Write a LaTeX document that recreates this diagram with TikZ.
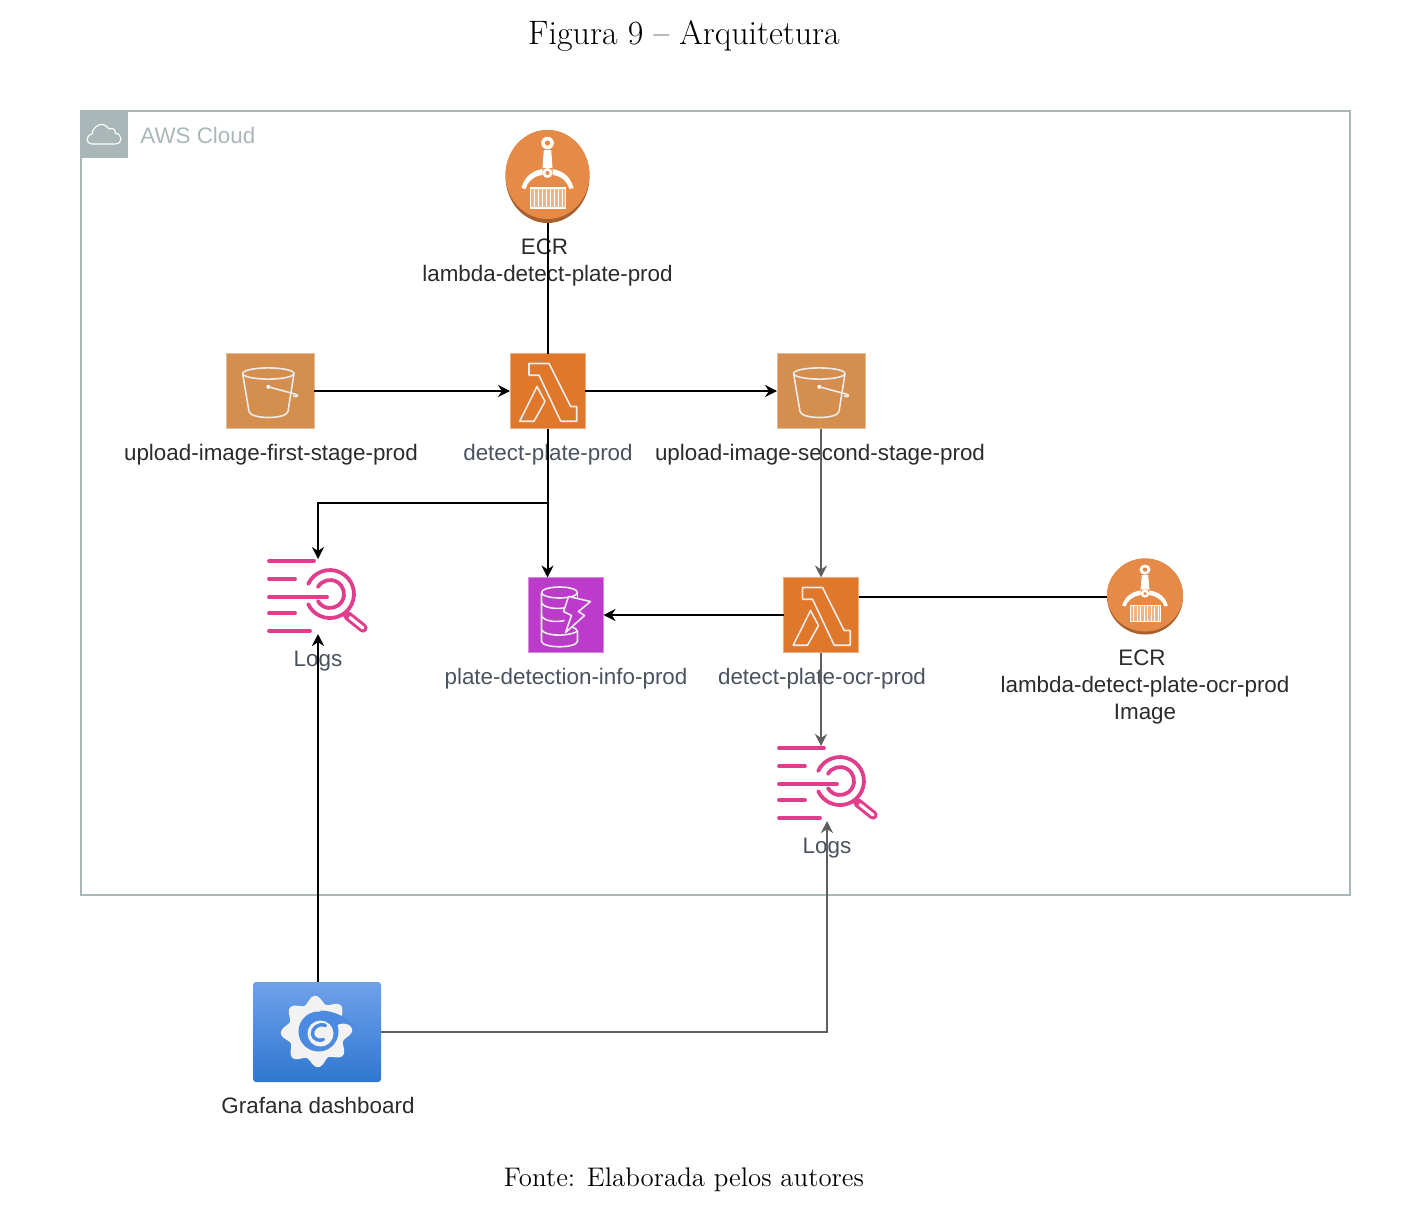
\documentclass[tikz,border=0pt]{standalone}
\usepackage{fontspec}
\setmainfont{Latin Modern Roman}
\newfontfamily\lblfont{Liberation Sans}
\usetikzlibrary{arrows.meta,shapes.geometric,calc}
\definecolor{awsgray}{HTML}{AAB7B8}
\definecolor{s3col}{HTML}{D48F4F}
\definecolor{lamcol}{HTML}{E0782B}
\definecolor{dyncol}{HTML}{BC3BCB}
\definecolor{logcol}{HTML}{E13D8D}
\definecolor{ecrcol}{HTML}{E68B47}
\definecolor{ecrdark}{HTML}{A8602E}
\definecolor{graftop}{HTML}{6FA1EA}
\definecolor{grafbot}{HTML}{2F77CF}
\definecolor{grafmid}{HTML}{4A8BDF}
\definecolor{gearwhite}{HTML}{F2F2F2}
\definecolor{lbldark}{HTML}{2B2B2B}
\definecolor{lblslate}{HTML}{4A5260}
\definecolor{linegray}{HTML}{5F5F5F}
\tikzset{
  iconbox/.style={rectangle,inner sep=0pt,outer sep=0pt,minimum height=37.5pt},
  s3box/.style={iconbox,fill=s3col,draw=s3col!60,line width=.4pt,minimum width=44pt},
  lambox/.style={iconbox,fill=lamcol,draw=lamcol!60,line width=.4pt,minimum width=37.5pt},
  dynbox/.style={iconbox,fill=dyncol,draw=dyncol!60,line width=.4pt,minimum width=37.5pt},
  logbox/.style={iconbox,minimum width=50pt},
  ecrshape/.style={ellipse,inner sep=0pt,outer sep=0pt,fill=ecrcol},
  grafbox/.style={rectangle,rounded corners=1.5pt,inner sep=0pt,outer sep=0pt,minimum width=64pt,minimum height=50pt,top color=graftop,bottom color=grafbot},
  lbl/.style={font=\lblfont\fontsize{11.2}{13.5}\selectfont,text=lbldark,align=center,inner sep=0pt},
  slatelbl/.style={lbl,text=lblslate},
  caplbl/.style={font=\fontsize{15}{18}\selectfont,text=black,inner sep=0pt,scale=1.13},
  srclbl/.style={font=\fontsize{12.8}{15}\selectfont,text=black,inner sep=0pt,scale=1.05},
  conn/.style={line width=1pt,black,-{Stealth[length=6pt,width=6pt]}},
  plain/.style={line width=1pt,black},
  gconn/.style={line width=1.4pt,linegray,-{Stealth[length=6pt,width=6pt]}},
  wline/.style={white!92!black,line width=.8pt,line join=round},
}
% bucket, origin at box top-left, box 88x75
\newcommand\bucketicon[1]{%
 \begin{scope}[shift={(#1)},wline]
  \draw (42.3,20) ellipse [x radius=25.7,y radius=5.6];
  \draw (16.6,20) -- (23,58) .. controls (25,66) and (60,66) .. (62,58) -- (68,20);
  \fill[white] (42.3,33.3) circle (2);
  \draw (42.3,33.3) -- (69,40.5) .. controls (74,42) and (71,44) .. (67,42.5);
 \end{scope}}
% lambda, origin at box top-left, box 75x75
\newcommand\lambdaicon[1]{%
 \begin{scope}[shift={(#1)},wline]
  \draw (19,10) -- (39,10) -- (60.7,53) -- (66.7,53) -- (66.7,67.7) -- (50.7,67.7) -- (29,21.7) -- (19,21.7) -- cycle;
  \draw (27,33) -- (35,48) -- (24,67.7) -- (9.7,67.7) -- cycle;
 \end{scope}}
% dynamodb, origin at box top-left, box 75x75
\newcommand\dynamoicon[1]{%
 \begin{scope}[shift={(#1)},wline]
  \draw (31,15) ellipse [x radius=18,y radius=5.5];
  \draw (13,15) -- (13,64) .. controls (15,71) and (47,71) .. (49,64) -- (49,54);
  \draw (49,15) -- (49,22);
  \draw (13,25) .. controls (15,31) and (30,32) .. (38,30);
  \draw (13,38) .. controls (15,44) and (28,45) .. (36,43);
  \draw (13,52) .. controls (15,58) and (36,60) .. (49,54) .. controls (48,51) and (46,50) .. (44,50);
  \filldraw[fill=dyncol] (40,19) -- (62,24) -- (50,34) -- (56,38) -- (37,55) -- (43,38) -- (35,34) -- cycle;
 \end{scope}}
% logs, origin at top-left, 100x75
\newcommand\logsicon[1]{%
 \begin{scope}[shift={(#1)},logcol,line width=1.9pt,line cap=round]
  \draw (2,2) -- (47,2);
  \draw (2,20) -- (28,20);
  \draw (2,38) -- (60,38);
  \draw (2,54) -- (28,54);
  \draw (2,72) -- (43,72);
  \draw (41.2,24.9) arc [start angle=205,end angle=515,radius=24];
  \draw (50.9,28) arc [start angle=210,end angle=510,radius=14];
  \draw[line width=4.6pt] (81,57) -- (96,69);
  \draw[white,line width=1.6pt] (83,58.6) -- (96,69);
 \end{scope}}
% ecr glyph, origin at circle centre
\newcommand\ecrglyph[3]{%
 \begin{scope}[shift={(#1)},xscale=#2,yscale=#3]
  \fill[white] (0,-33) circle (6.3);
  \fill[ecrcol] (0,-33) circle (2.6);
  \fill[white] (-3.7,-26) -- (3.7,-26) -- (5,-8) -- (-5,-8) -- cycle;
  \fill[white] (0,-3) circle (5);
  \fill[ecrcol] (0,-3) circle (2);
  \fill[white] (-26,12) .. controls (-23,1) and (-16,-5) .. (-5,-7) -- (-5,-1) .. controls (-14,0) and (-20,6) .. (-22,13) -- cycle;
  \fill[white] (26,12) .. controls (23,1) and (16,-5) .. (5,-7) -- (5,-1) .. controls (14,0) and (20,6) .. (22,13) -- cycle;
  \fill[white,opacity=.35] (-17,12) rectangle (18,32);
  \draw[white,line width=.55pt] (-17,12) rectangle (18,32);
  \foreach \vx in {-13,-9,-5,-1,3,7,11,15} {\draw[white,line width=.55pt] (\vx,12) -- (\vx,32);}
 \end{scope}}
\begin{document}
\begin{tikzpicture}[x=0.5pt,y=-0.5pt]
\useasboundingbox (0,0) rectangle (1428,1204);
% captions
\node[caplbl] (cap) at (684,36) {Figura 9 -- Arquitetura};
\node[srclbl] (src) at (684,1180) {Fonte: Elaborada pelos autores};
% AWS frame
\node[rectangle,draw=awsgray,line width=.65pt,inner sep=0pt,outer sep=0pt,minimum width=634.5pt,minimum height=392pt] (cloud) at (715.5,503) {};
\node[rectangle,fill=awsgray,inner sep=0pt,outer sep=0pt,minimum size=23.5pt] (cloudhdr) at (104.5,134.5) {};
\draw[white,line width=.55pt,line join=round] (92,144) .. controls (86,144) and (85,136) .. (92,134) .. controls (93,126) and (103,120) .. (109,129) .. controls (113,127) and (116,130) .. (115,133) .. controls (123,134) and (123,144) .. (115,144) -- cycle;
\node[font=\lblfont\fontsize{11.2}{13.5}\selectfont,text=awsgray,anchor=west,inner sep=0pt] (cloudlbl) at (140,135.5) {AWS Cloud};
% labels (connectors run over them)
\node[lbl] (ecrAl) at (547.5,262.5) {ECR\kern3pt\\lambda-detect-plate-prod};
\node[lbl] (s3Al) at (271,455) {upload-image-first-stage-prod};
\node[slatelbl] (lamAl) at (548,455) {detect-plate-prod};
\node[lbl] (s3Bl) at (820,455) {upload-image-second-stage-prod};
\node[slatelbl] (logAl) at (318,661) {Logs};
\node[slatelbl] (dynl) at (566,679) {plate-detection-info-prod};
\node[slatelbl] (lamBl) at (822,679) {detect-plate-ocr-prod};
\node[lbl] (ecrBl) at (1145,687) {ECR\kern3pt\\lambda-detect-plate-ocr-prod\\Image};
\node[slatelbl] (logBl) at (827,848) {Logs};
\node[lbl] (grafl) at (318,1105.5) {Grafana dashboard};
% icons
\node[ecrshape,fill=ecrdark,minimum width=42pt,minimum height=46.5pt] (ecrA) at (547.5,176.5) {};
\fill[ecrcol] (547.5,174.5) ellipse [x radius=42,y radius=44.5];
\ecrglyph{547.5,176}{1}{1}
\node[s3box] (s3A) at (270,391) {};
\bucketicon{226,353.5}
\node[lambox] (lamA) at (547.5,391) {};
\lambdaicon{510,353.5}
\node[s3box] (s3B) at (821,391) {};
\bucketicon{777,353.5}
\node[logbox] (logA) at (318,596.5) {};
\logsicon{267,559}
\node[dynbox] (dyn) at (566,615) {};
\dynamoicon{528.5,577.5}
\node[lambox] (lamB) at (821,615) {};
\lambdaicon{783.5,577.5}
\node[ecrshape,fill=ecrdark,minimum width=38pt,minimum height=38pt] (ecrB) at (1145,596.5) {};
\fill[ecrcol] (1145,595) ellipse [x radius=38,y radius=36.5];
\ecrglyph{1145,596}{.88}{.8}
\node[logbox] (logB) at (827,783.5) {};
\logsicon{777,746}
\node[grafbox] (graf) at (317,1032) {};
\begin{scope}[shift={(316.5,1031.5)}]
 \fill[gearwhite] plot[smooth cycle,domain=0:356,samples=73] ({(32+3.8*cos(8*\x+20))*cos(\x)},{(32+3.8*cos(8*\x+20))*sin(\x)});
 \fill[grafmid] (2,0) circle (20);
 \fill[grafmid] (3,-21) .. controls (18,-21) and (32,-14) .. (37,-4) .. controls (31,-9) and (24,-9) .. (20,-6) -- cycle;
 \fill[gearwhite] (4,2) circle (13);
 \draw[grafmid,line width=1.7pt,line cap=round] (9,-6) .. controls (2,-9) and (-5,-3) .. (-4,3) .. controls (-3,8) and (3,10) .. (7,8);
\end{scope}
% connectors
\coordinate (jn) at (547.5,503);
\draw[plain] (ecrA.south) -- (lamA.north);
\draw[conn] (s3A.east) -- (lamA.west);
\draw[conn] (lamA.east) -- (s3B.west);
\draw[plain] (lamA.south) -- (jn);
\draw[conn] (jn) -| (logA.north);
\draw[conn] (jn) -- (jn |- dyn.north);
\draw[gconn] (s3B.south) -- (lamB.north);
\draw[conn] (lamB.west) -- (dyn.east);
\draw[plain] (lamB.east |- ecrB.west) -- (ecrB.west);
\draw[gconn] (lamB.south) -- (lamB.south |- logB.north);
\draw[conn] (logA.south |- graf.north) -- (logA.south);
\draw[gconn] (graf.east) -| (logB.south);
\end{tikzpicture}
\end{document}
